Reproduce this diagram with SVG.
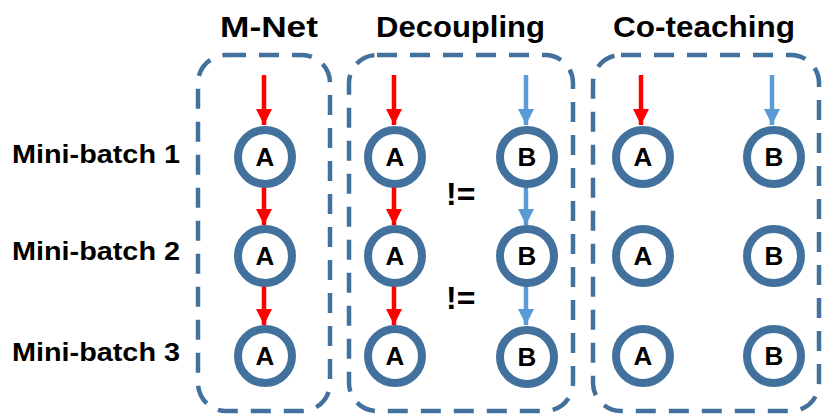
<svg xmlns="http://www.w3.org/2000/svg" width="822" height="415" viewBox="0 0 822 415">
<style>
.box{fill:none;stroke:#41719C;stroke-width:4.5;stroke-dasharray:20 13}
.node circle{fill:#fff;stroke:#41719C;stroke-width:8}
.node text{font-family:"Liberation Sans",Arial,sans-serif;font-weight:bold;font-size:26px;fill:#000;text-anchor:middle}
.title{font-family:"Liberation Sans",Arial,sans-serif;font-weight:bold;font-size:30px;fill:#000}
.lbl{font-family:"Liberation Sans",Arial,sans-serif;font-weight:bold;font-size:25px;fill:#000}
.neq{font-family:"Liberation Sans",Arial,sans-serif;font-weight:bold;font-size:32px;fill:#000}
.r{stroke:#FF0000;stroke-width:4.5;fill:none}
.b{stroke:#5B9BD5;stroke-width:4.5;fill:none}
</style>
<defs>
<marker id="ar" viewBox="0 0 16 16" refX="16" refY="8" markerWidth="16" markerHeight="17" markerUnits="userSpaceOnUse" orient="auto"><path d="M0,0 L16,8 L0,16 Z" fill="#FF0000"/></marker>
<marker id="ab" viewBox="0 0 16 16" refX="16" refY="8" markerWidth="16" markerHeight="17" markerUnits="userSpaceOnUse" orient="auto"><path d="M0,0 L16,8 L0,16 Z" fill="#5B9BD5"/></marker>
</defs>
<g id="titles">
<text class="title" x="220" y="37" textLength="98" lengthAdjust="spacingAndGlyphs">M-Net</text>
<text class="title" x="376" y="37" textLength="169" lengthAdjust="spacingAndGlyphs">Decoupling</text>
<text class="title" x="613" y="37" textLength="182" lengthAdjust="spacingAndGlyphs">Co-teaching</text>
</g>
<g id="labels">
<text class="lbl" x="12" y="163" textLength="168" lengthAdjust="spacingAndGlyphs">Mini-batch 1</text>
<text class="lbl" x="12" y="260" textLength="168" lengthAdjust="spacingAndGlyphs">Mini-batch 2</text>
<text class="lbl" x="12" y="361" textLength="168" lengthAdjust="spacingAndGlyphs">Mini-batch 3</text>
</g>
<g id="boxes">
<rect id="box-mnet" class="box" x="198" y="55" width="132" height="356" rx="28"/>
<rect id="box-decoupling" class="box" x="349" y="55" width="224" height="356" rx="28"/>
<rect id="box-coteaching" class="box" x="593" y="55" width="226" height="356" rx="28"/>
</g>
<g id="connectors">
<line class="r" x1="264" y1="75" x2="264" y2="125" marker-end="url(#ar)"/>
<line class="r" x1="264" y1="186" x2="264" y2="225" marker-end="url(#ar)"/>
<line class="r" x1="264" y1="286" x2="264" y2="325" marker-end="url(#ar)"/>
<line class="r" x1="394" y1="75" x2="394" y2="125" marker-end="url(#ar)"/>
<line class="r" x1="394" y1="186" x2="394" y2="225" marker-end="url(#ar)"/>
<line class="r" x1="394" y1="286" x2="394" y2="325" marker-end="url(#ar)"/>
<line class="b" x1="526" y1="75" x2="526" y2="125" marker-end="url(#ab)"/>
<line class="b" x1="526" y1="186" x2="526" y2="225" marker-end="url(#ab)"/>
<line class="b" x1="526" y1="286" x2="526" y2="325" marker-end="url(#ab)"/>
<line class="r" x1="641" y1="75" x2="641" y2="125" marker-end="url(#ar)"/>
<line class="b" x1="772" y1="75" x2="772" y2="125" marker-end="url(#ab)"/>
</g>
<g id="mnet-a1" class="node"><circle cx="265" cy="157" r="27"/><text x="265" y="166">A</text></g>
<g id="mnet-a2" class="node"><circle cx="265" cy="256" r="27"/><text x="265" y="265">A</text></g>
<g id="mnet-a3" class="node"><circle cx="265" cy="356" r="27"/><text x="265" y="365">A</text></g>
<g id="dec-a1" class="node"><circle cx="395" cy="157" r="27"/><text x="395" y="166">A</text></g>
<g id="dec-a2" class="node"><circle cx="395" cy="256" r="27"/><text x="395" y="265">A</text></g>
<g id="dec-a3" class="node"><circle cx="395" cy="356" r="27"/><text x="395" y="365">A</text></g>
<g id="dec-b1" class="node"><circle cx="527" cy="157" r="27"/><text x="527" y="166">B</text></g>
<g id="dec-b2" class="node"><circle cx="527" cy="256" r="27"/><text x="527" y="265">B</text></g>
<g id="dec-b3" class="node"><circle cx="527" cy="357" r="27"/><text x="527" y="366">B</text></g>
<g id="co-a1" class="node"><circle cx="643" cy="157" r="27"/><text x="643" y="166">A</text></g>
<g id="co-a2" class="node"><circle cx="643" cy="256" r="27"/><text x="643" y="265">A</text></g>
<g id="co-a3" class="node"><circle cx="643" cy="356" r="27"/><text x="643" y="365">A</text></g>
<g id="co-b1" class="node"><circle cx="774" cy="157" r="27"/><text x="774" y="166">B</text></g>
<g id="co-b2" class="node"><circle cx="774" cy="256" r="27"/><text x="774" y="265">B</text></g>
<g id="co-b3" class="node"><circle cx="774" cy="356" r="27"/><text x="774" y="365">B</text></g>
<g id="neq">
<text class="neq" x="446" y="205">!=</text>
<text class="neq" x="446" y="309">!=</text>
</g>
</svg>
